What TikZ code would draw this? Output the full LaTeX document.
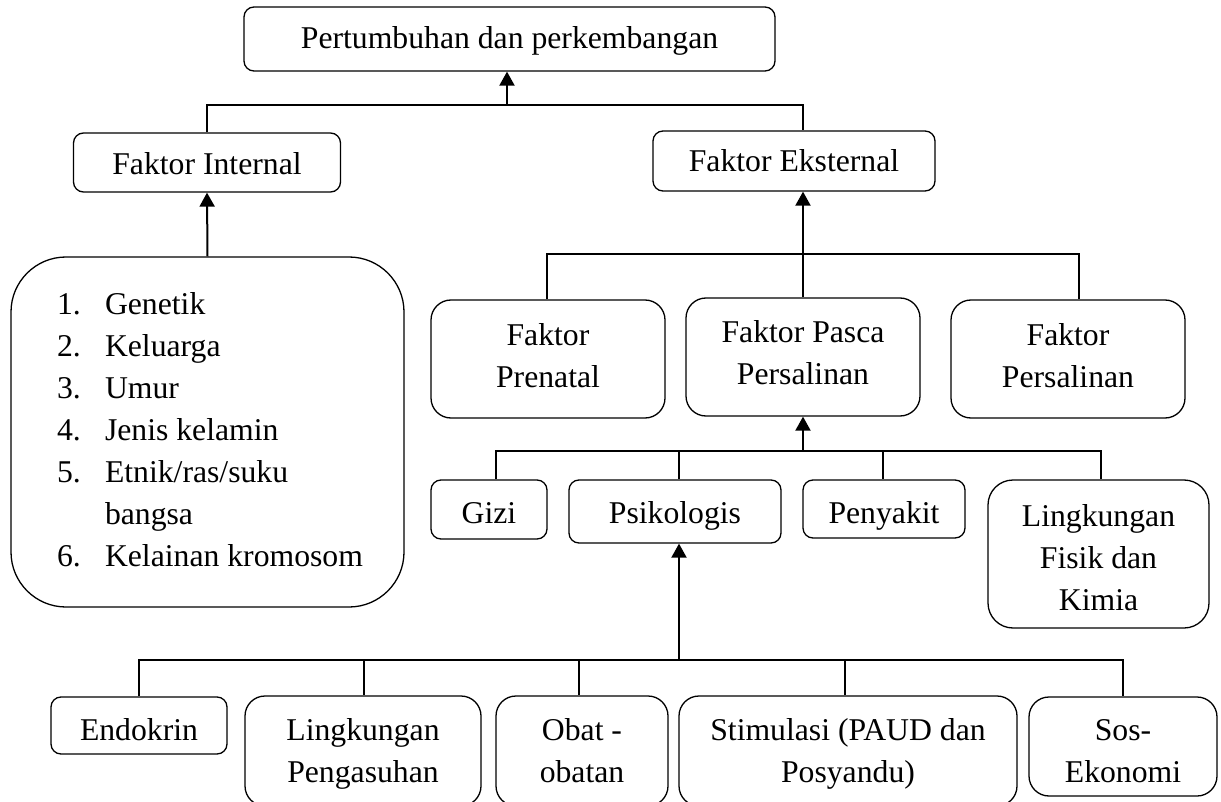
\documentclass[tikz,border=0pt]{standalone}
\usepackage{fontspec}
\setmainfont{Liberation Serif}
\usetikzlibrary{arrows.meta}
\newcommand\tst[1]{\rule{0pt}{#1pt}}
\newcommand\bst{\rule[-10pt]{0pt}{10pt}}
\begin{document}
\begin{tikzpicture}[x=1pt,y=-1pt,
  box/.style={draw, line width=1.3pt, rounded corners=#1, align=center, inner sep=0pt,
              font=\fontsize{31.7}{42}\selectfont},
  box/.default=10pt,
  sz/.style 2 args={minimum width=#1pt, minimum height=#2pt},
  conn/.style={line width=1.5pt},
  arr/.style={line width=2pt, -{Triangle[width=15pt,length=14pt]}}]
\useasboundingbox (0,0) rectangle (1221,802);

% nodes
\node[box, sz={531}{64}] (top) at (509.5,39) {\tst{30}Pertumbuhan dan perkembangan\bst};
\node[box, sz={267}{59}] (fi) at (207,162.5) {\tst{35}Faktor Internal\bst};
\node[box, sz={282}{60}] (fe) at (794,161) {\tst{32}Faktor Eksternal\bst};
\node[box=55pt, sz={393}{350}] (list) at (207.5,432)
  {\begin{tabular}{@{\hspace{5pt}}p{48pt}@{}l@{}}
   1.&Genetik\\2.&Keluarga\\3.&Umur\\4.&Jenis kelamin\\5.&Etnik/ras/suku\\&bangsa\\6.&Kelainan kromosom
   \end{tabular}};
\node[box=20pt, sz={234}{118}] (pre) at (548,359) {\tst{24}Faktor\\Prenatal\bst};
\node[box=20pt, sz={234}{118}] (pas) at (803,357) {\tst{22}Faktor Pasca\\Persalinan\bst};
\node[box=20pt, sz={234}{118}] (per) at (1068,359) {\tst{24}Faktor\\Persalinan\bst};
\node[box, sz={116}{59}] (gizi) at (489,509.5) {\tst{37}Gizi\bst};
\node[box, sz={212}{63}] (psi) at (675,511.5) {\tst{33}Psikologis\bst};
\node[box, sz={162}{58}] (pen) at (884,509) {\tst{38}Penyakit\bst};
\node[box=25pt, sz={221}{148}] (lfk) at (1098.5,554) {\tst{39}Lingkungan\\Fisik dan\\Kimia\bst};
\node[box, sz={176}{57}] (endo) at (139,725.5) {\tst{39}Endokrin\bst};
\node[box=20pt, sz={236}{110}] (lp) at (363,751) {\tst{30}Lingkungan\\Pengasuhan\bst};
\node[box=20pt, sz={172}{110}] (obat) at (582,751) {\tst{30}Obat -\\obatan\bst};
\node[box=20pt, sz={338}{110}] (stim) at (848,751) {\tst{30}Stimulasi (PAUD dan\\Posyandu)\bst};
\node[box=20pt, sz={188}{99}] (sos) at (1123,746.5) {\tst{40}Sos-\\Ekonomi\bst};

% level 1 bus
\coordinate (b1a) at (507,105);
\coordinate (b1r) at (803,105);
\draw[conn] (fi.north) |- (b1r) -- (b1r |- fe.north);
\draw[arr] (b1a) -- (b1a |- top.south);
\draw[arr] (list.north) -- (fi.south);

% level 2 bus
\coordinate (b2) at (803,254);
\coordinate (b2l) at (547,254);
\coordinate (b2r) at (1079,254);
\draw[conn] (b2l |- pre.north) -- (b2l) -- (b2r) -- (b2r |- per.north);
\draw[conn] (b2) -- (pas.north);
\draw[arr] (b2) -- (b2 |- fe.south);

% level 3 bus
\coordinate (b3) at (803,451);
\coordinate (b3l) at (496,451);
\coordinate (b3r) at (1101,451);
\coordinate (b3p) at (679,451);
\coordinate (b3q) at (883,451);
\draw[conn] (b3l |- gizi.north) -- (b3l) -- (b3r) -- (b3r |- lfk.north);
\draw[conn] (b3p) -- (b3p |- psi.north);
\draw[conn] (b3q) -- (b3q |- pen.north);
\draw[arr] (b3) -- (b3 |- pas.south);

% level 4 bus
\coordinate (b4) at (679,660);
\coordinate (b4r) at (1123,660);
\coordinate (b4a) at (364,660);
\coordinate (b4b) at (579,660);
\coordinate (b4c) at (845,660);
\draw[conn] (endo.north) |- (b4r) -- (sos.north);
\draw[conn] (b4a) -- (b4a |- lp.north);
\draw[conn] (b4b) -- (b4b |- obat.north);
\draw[conn] (b4c) -- (b4c |- stim.north);
\draw[arr] (b4) -- (b4 |- psi.south);
\end{tikzpicture}
\end{document}
